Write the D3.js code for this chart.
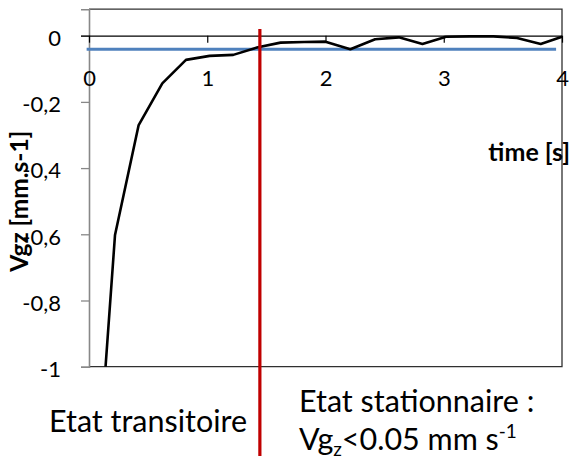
<!DOCTYPE html>
<html>
<head>
<meta charset="utf-8">
<script src="https://cdn.jsdelivr.net/npm/d3@7"></script>
<style>
  html, body { margin: 0; padding: 0; background: #fff; }
  svg { display: block; font-family: Lato, "Open Sans", sans-serif; }
</style>
</head>
<body>
<svg id="chart" width="573" height="459"></svg>
<script>
// ---- data ----
const time = [0.14, 0.22, 0.42, 0.62, 0.82, 1.02, 1.22, 1.42, 1.62, 1.82, 2.0, 2.21, 2.42, 2.62, 2.82, 3.02, 3.22, 3.42, 3.62, 3.82, 4.0];
const vgz  = [-1.0, -0.602, -0.27, -0.144, -0.073, -0.061, -0.058, -0.036, -0.021, -0.019, -0.018, -0.041, -0.011, -0.005, -0.025, -0.003, -0.002, -0.002, -0.007, -0.025, -0.003];
const xTicks = [0, 1, 2, 3, 4];
const yTicks = [0, -0.2, -0.4, -0.6, -0.8, -1];
const thresholdValue = -0.041;
const thresholdSpan = [-0.02, 3.95];
const splitTime = 1.445;
const splitSpan = [0.02, -1.27];

const svg = d3.select("#chart");
const x = d3.scaleLinear().domain([0, 4]).range([89, 562]);
const y = d3.scaleLinear().domain([-1, 0.08]).range([366.7, 9.2]);
const fmt = v => (v === 0 ? "0" : String(v).replace(".", ","));

// plot area border (top, right, bottom)
svg.append("path")
  .attr("d", `M${x(0)},${y(0.08)}H${x(4)}V${y(-1)}H${x(0)}`)
  .attr("fill", "none").attr("stroke", "#303030").attr("stroke-width", 1.3);

// y axis
const yAxis = svg.append("g").attr("transform", `translate(${x(0)},0)`)
  .call(d3.axisLeft(y).tickValues(yTicks).tickFormat(fmt).tickSize(8).tickPadding(20));
yAxis.select(".domain").attr("stroke", "#888").attr("stroke-width", 1.6);
yAxis.selectAll(".tick line").attr("stroke", "#888").attr("stroke-width", 1.3);
yAxis.selectAll(".tick text").attr("font-size", 22).attr("fill", "#000")
  .attr("font-family", "Lato, sans-serif").attr("dy", "0.45em");

// x axis at y = 0
const xAxis = svg.append("g").attr("transform", `translate(0,${y(0)})`)
  .call(d3.axisBottom(x).tickValues(xTicks).tickFormat(d3.format("d")).tickSize(7).tickSizeOuter(0).tickPadding(28));
xAxis.select(".domain").attr("stroke", "#000").attr("stroke-width", 1.3)
  .attr("d", `M${x(0) - 8},0.5H${x(4)}`);
xAxis.selectAll(".tick line").attr("stroke", "#000").attr("stroke-width", 1.2);
xAxis.selectAll(".tick text").attr("font-size", 22).attr("fill", "#000")
  .attr("font-family", "Lato, sans-serif");

// threshold line (blue)
svg.append("line")
  .attr("x1", x(thresholdSpan[0])).attr("x2", x(thresholdSpan[1]))
  .attr("y1", y(thresholdValue)).attr("y2", y(thresholdValue))
  .attr("stroke", "#4f81bd").attr("stroke-width", 3.2);

// data line
const line = d3.line().x((d, i) => x(time[i])).y(d => y(d));
svg.append("path").datum(vgz)
  .attr("d", line)
  .attr("fill", "none").attr("stroke", "#000").attr("stroke-width", 2.6)
  .attr("stroke-linejoin", "round");

// split line (red)
svg.append("line")
  .attr("x1", x(splitTime)).attr("x2", x(splitTime))
  .attr("y1", y(splitSpan[0])).attr("y2", y(splitSpan[1]))
  .attr("stroke", "#c00000").attr("stroke-width", 3.2);

// axis titles
svg.append("text")
  .attr("transform", `translate(28,${y(-0.5)}) rotate(-90)`)
  .attr("text-anchor", "middle")
  .attr("font-size", 24.5).attr("font-weight", "bold")
  .text("Vgz [mm.s-1]");

svg.append("text")
  .attr("x", 570).attr("y", 161)
  .attr("text-anchor", "end")
  .attr("font-size", 25).attr("font-weight", "bold")
  .text("time [s]");

// annotations
svg.append("text")
  .attr("x", 49).attr("y", 432)
  .attr("font-size", 30.5)
  .text("Etat transitoire");

svg.append("text")
  .attr("x", 299).attr("y", 412)
  .attr("font-size", 30.5)
  .text("Etat stationnaire :");

const t3 = svg.append("text")
  .attr("x", 299).attr("y", 450)
  .attr("font-size", 30.5);
t3.append("tspan").text("Vg");
t3.append("tspan").attr("font-size", 19).attr("dy", 6).text("z");
t3.append("tspan").attr("dy", -6).text("<0.05 mm s");
t3.append("tspan").attr("font-size", 19).attr("dy", -12).text("-1");
</script>
</body>
</html>
